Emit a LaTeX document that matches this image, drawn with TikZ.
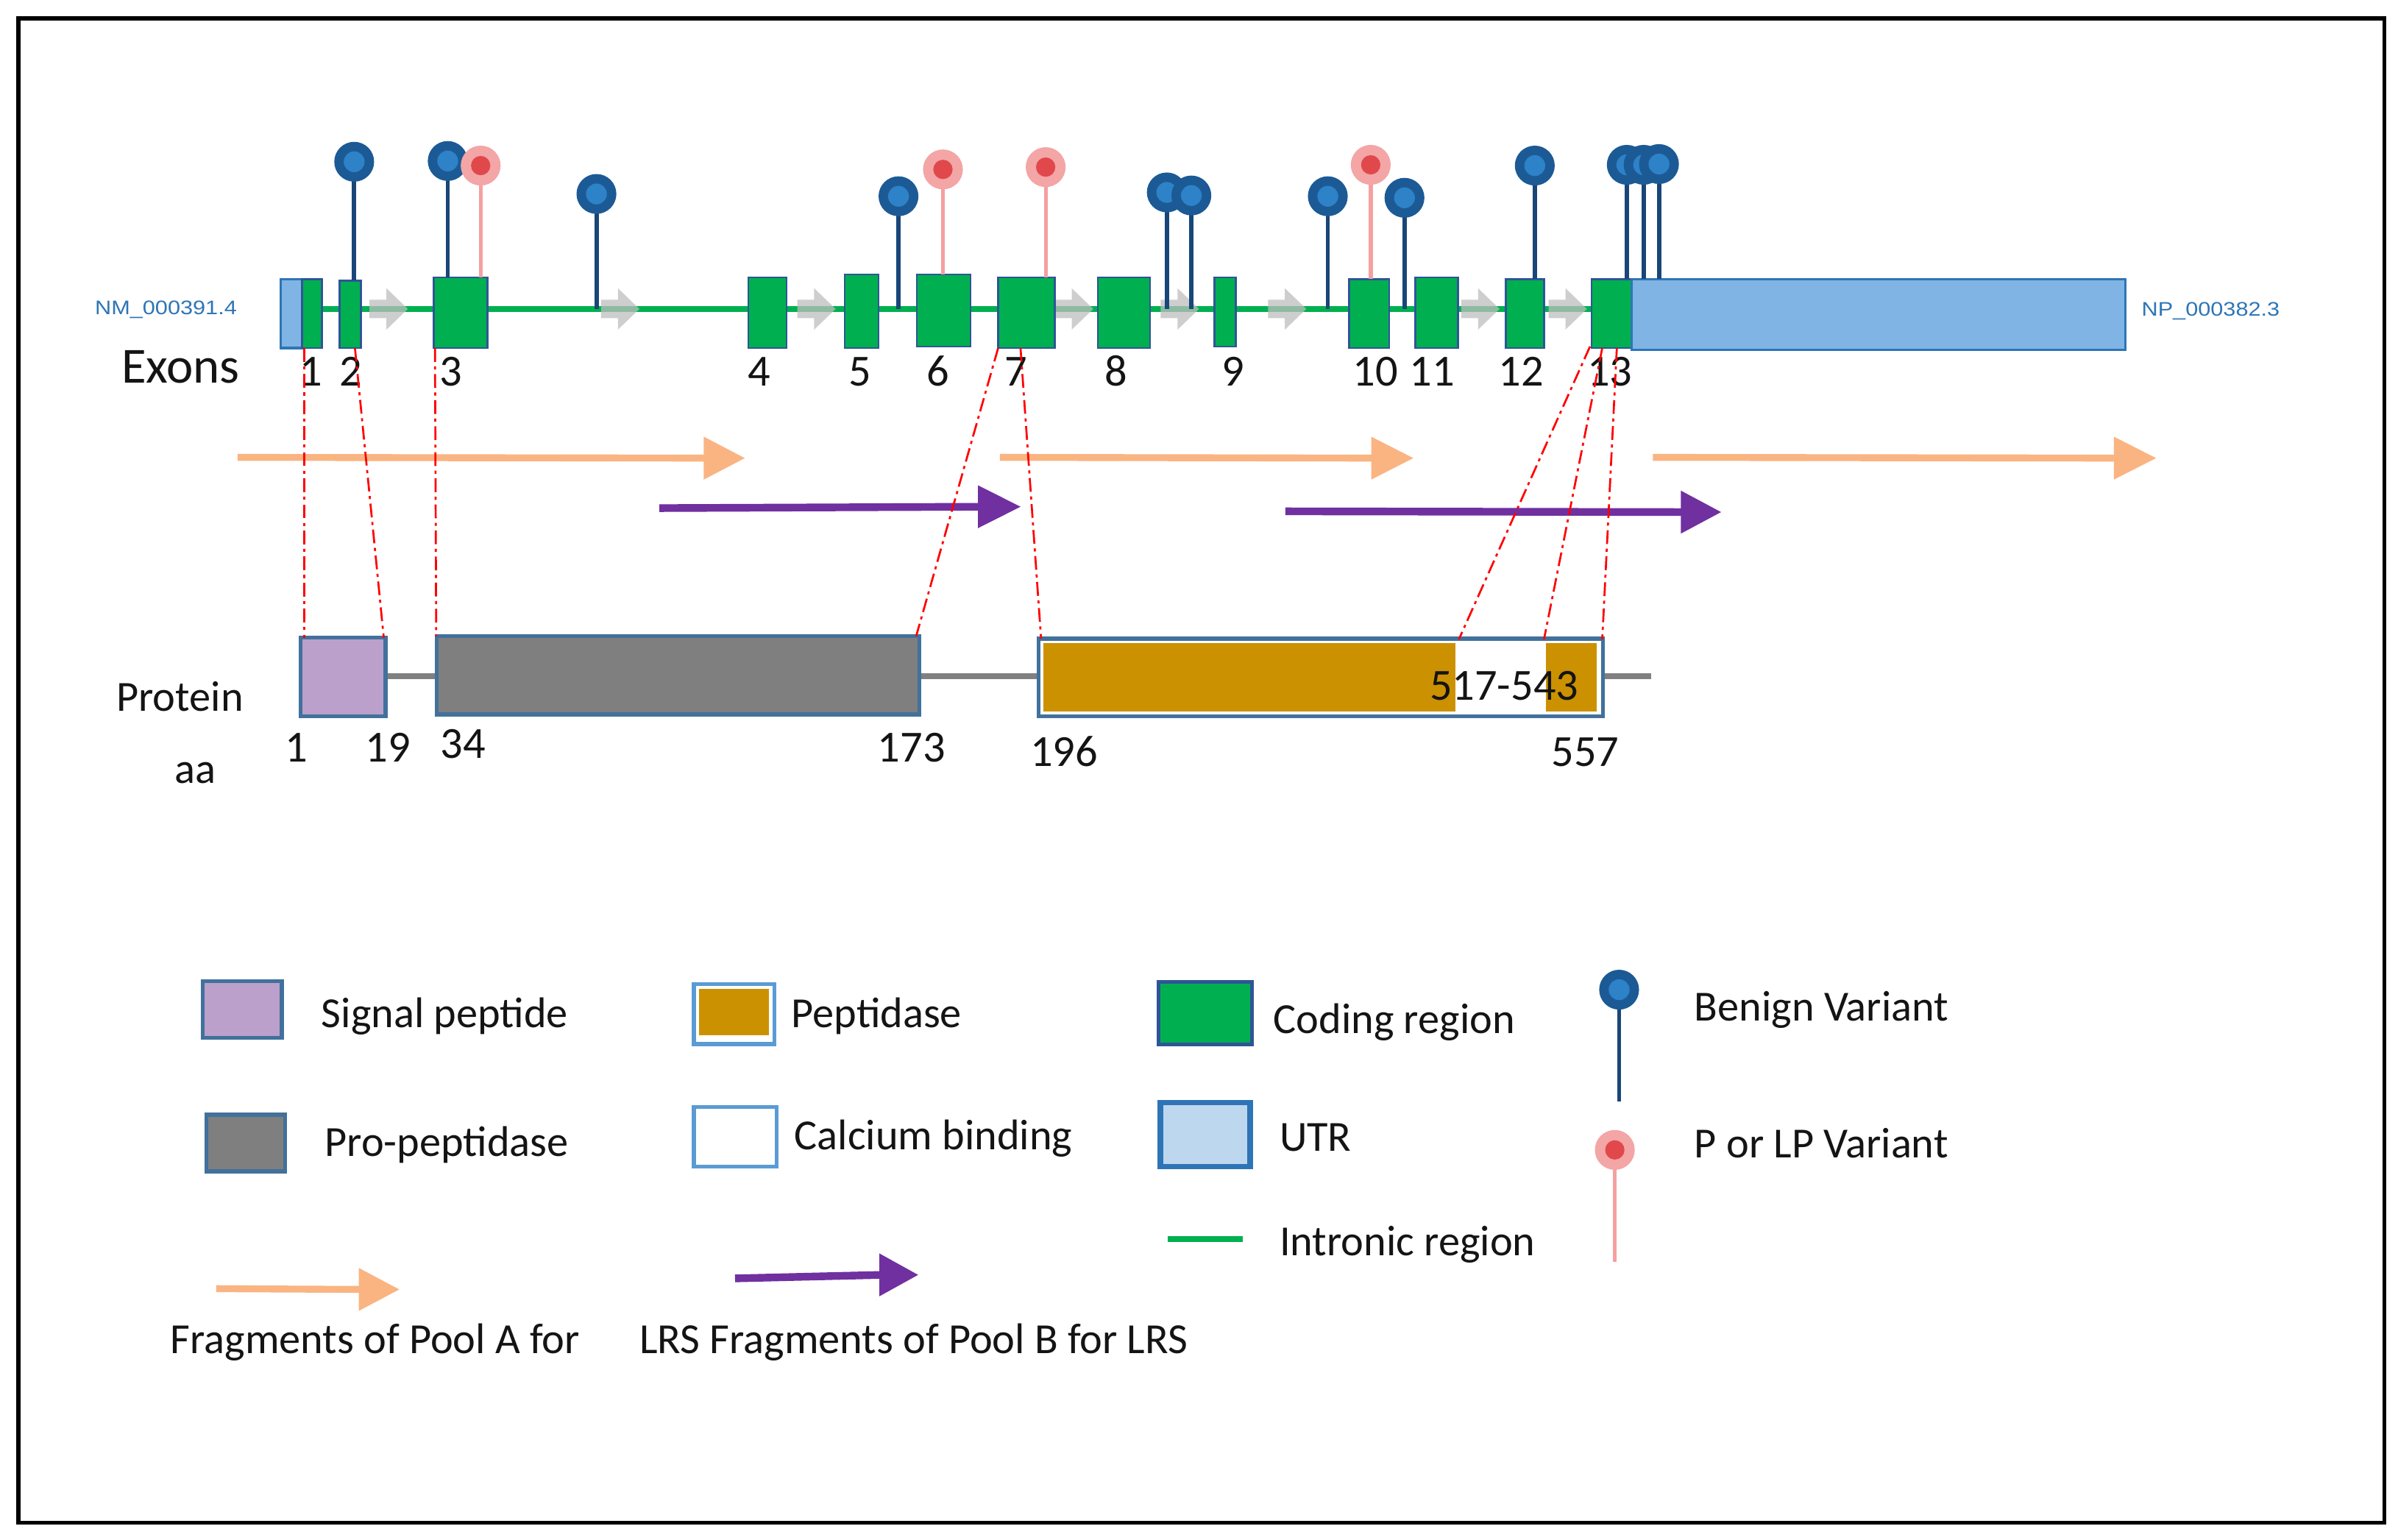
\documentclass[tikz,border=0pt]{standalone}
\usepackage{fontspec}
\setmainfont{Carlito}
\newfontfamily\arialfont{Liberation Sans}
\definecolor{exongreen}{RGB}{0,176,80}
\definecolor{exonedge}{RGB}{47,85,151}
\definecolor{utrfill}{RGB}{127,180,228}
\definecolor{utredge}{RGB}{46,117,182}
\definecolor{utrleg}{RGB}{189,215,238}
\definecolor{bring}{RGB}{28,90,150}
\definecolor{binner}{RGB}{45,130,200}
\definecolor{bstem}{RGB}{25,70,120}
\definecolor{pout}{RGB}{244,165,165}
\definecolor{pinner}{RGB}{224,72,76}
\definecolor{pstem}{RGB}{245,160,160}
\definecolor{sigfill}{RGB}{187,160,203}
\definecolor{profill}{RGB}{127,127,127}
\definecolor{pepfill}{RGB}{204,145,0}
\definecolor{boxedge}{RGB}{65,113,156}
\definecolor{calcedge}{RGB}{91,155,213}
\definecolor{orangeA}{RGB}{250,180,130}
\definecolor{purpleB}{RGB}{112,48,160}
\definecolor{redline}{RGB}{255,0,0}
\definecolor{nmblue}{RGB}{46,117,182}
\definecolor{garrowgray}{RGB}{190,190,190}
\definecolor{bbgray}{RGB}{128,128,128}
\definecolor{txt}{RGB}{20,20,20}
\tikzset{
  exonbox/.style={draw=exonedge, fill=exongreen, line width=1.2, inner sep=0, outer sep=0},
  utrbox/.style={draw=utredge, fill=utrfill, line width=1.5, inner sep=0, outer sep=0},
  intron/.style={draw=exongreen, line width=3.5},
  garrowfill/.style={fill=garrowgray, opacity=0.75},
  bstemline/.style={draw=bstem, line width=2.8},
  pstemline/.style={draw=pstem, line width=2.5},
  bhead/.style={circle, fill=bring, minimum size=26, inner sep=0, draw=none},
  phead/.style={circle, fill=pout, minimum size=26, inner sep=0, draw=none},
  conn/.style={draw=redline, line width=1.3, dash pattern=on 9pt off 3pt on 2pt off 3pt},
  fragA/.style={draw=orangeA, line width=4.5},
  fragB/.style={draw=purpleB, line width=5},
  lbl/.style={font=\fontsize{28}{30}\selectfont, text=txt, inner sep=0},
  num/.style={font=\fontsize{29}{31}\selectfont, text=txt, inner sep=0, anchor=base},
  nm/.style={font=\arialfont\fontsize{12.8}{14}\selectfont, text=nmblue, inner sep=0, anchor=base west},
  sigbox/.style={draw=boxedge, fill=sigfill, line width=2.5, inner sep=0},
  probox/.style={draw=boxedge, fill=profill, line width=2.5, inner sep=0},
  pepbox/.style={draw=boxedge, fill=white, line width=2.5, inner sep=0},
  pepfillbox/.style={fill=pepfill, draw=none, inner sep=0},
  backbone/.style={draw=bbgray, line width=4},
}
\newcommand{\mkbox}[6]{\node[#2, minimum width={(#5)-(#3)}, minimum height={(#6)-(#4)}] (#1) at ({((#3)+(#5))/2},{((#4)+(#6))/2}) {};}
\newcommand{\benign}[4]{%
  \coordinate (#1b) at (#2,#4);
  \coordinate (#1t) at (#2,#3);
  \draw[bstemline] (#1b) -- (#1t);
  \node[bhead] (#1) at (#1t) {};
  \fill[binner] (#1.center) circle[radius=6.8];}
\newcommand{\pathog}[4]{%
  \coordinate (#1b) at (#2,#4);
  \coordinate (#1t) at (#2,#3);
  \draw[pstemline] (#1b) -- (#1t);
  \node[phead] (#1) at (#1t) {};
  \fill[pinner] (#1.center) circle[radius=6.3];}
\newcommand{\garrow}[1]{\fill[garrowfill] (#1,195.5) -- ++(11,0) -- ++(0,-7.5) -- ++(14,13.5) -- ++(-14,13.5) -- ++(0,-7.5) -- ++(-11,0) -- cycle;}
\newcommand{\fragarrow}[8]{%
  \coordinate (#1s) at (#4,#5);
  \coordinate (#1t) at (#7,#8);
  \draw[#2] (#1s) -- ({#6+2},#8);
  \fill[#3] (#6,{#8-14}) -- (#1t) -- (#6,{#8+14}) -- cycle;}
\begin{document}
\begin{tikzpicture}[x=1pt,y=-1pt]
\useasboundingbox (0,0) rectangle (1564,1004);
\fill[white] (0,0) rectangle (1564,1004);
\node[draw=black, line width=2.5, minimum width=1543, minimum height=981, inner sep=0] (frame) at (783.5,502.5) {};

% ---------- gene track ----------
\coordinate (iL) at (210,201.5);
\coordinate (iR) at (1038,201.5);
\draw[intron] (iL) -- (iR);
\garrow{241}\garrow{392}\garrow{520}\garrow{688}\garrow{757}\garrow{827}\garrow{953}\garrow{1010}

\mkbox{utrL}{utrbox}{183}{182}{197}{227}
\mkbox{e1}{exonbox}{197}{182}{210}{227}
\mkbox{e2}{exonbox}{221.5}{183}{235.5}{227}
\mkbox{e3}{exonbox}{283}{181}{318}{227}
\mkbox{e4}{exonbox}{488}{181}{513}{227}
\mkbox{e5}{exonbox}{551}{179}{573}{227}
\mkbox{e6}{exonbox}{598}{179}{633}{226}
\mkbox{e7}{exonbox}{651}{181}{688}{227}
\mkbox{e8}{exonbox}{716}{181}{750}{227}
\mkbox{e9}{exonbox}{792}{181}{806}{226}
\mkbox{e10}{exonbox}{880}{182}{906}{227}
\mkbox{e11}{exonbox}{923}{181}{951}{227}
\mkbox{e12}{exonbox}{982}{182}{1007}{227}
\mkbox{e13}{exonbox}{1038}{182}{1064}{227}
\mkbox{utrR}{utrbox}{1064}{182}{1386}{228}

\node[num] (n1) at (203,251.5) {1};
\node[num] (n2) at (229,251.5) {2};
\node[num] (n3) at (294,251.5) {3};
\node[num] (n4) at (495,251.5) {4};
\node[num] (n5) at (561,251.5) {5};
\node[num] (n6) at (612,251.5) {6};
\node[num] (n7) at (662.6,251.5) {7};
\node[num] (n8) at (728,251.5) {8};
\node[num] (n9) at (804,251.5) {9};
\node[num] (n10) at (897,251.5) {10};
\node[num] (n11) at (934,251.5) {11};
\node[num] (n12) at (992,251.5) {12};
\node[num] (n13) at (1050,251.5) {13};

\node[font=\fontsize{33}{35}\selectfont, text=txt, inner sep=0, anchor=base west] (exons) at (79,249.6) {Exons};
\node[nm] (nmlab) at (61.8,205) {\scalebox{1.15}[1]{NM\_000391.4}};
\node[nm] (nplab) at (1396.6,206) {\scalebox{1.15}[1]{NP\_000382.3}};

% variants
\benign{v1}{231}{105.5}{183}
\benign{v2}{292}{105}{181}
\pathog{v3}{313.5}{108}{181}
\benign{v4}{389}{126.5}{201.5}
\benign{v5}{586}{128}{201.5}
\pathog{v6}{615}{110.5}{179}
\pathog{v7}{682}{109}{181}
\benign{v8}{761}{125.5}{201.5}
\benign{v9}{777}{127.5}{201.5}
\benign{v10}{866}{128}{201.5}
\pathog{v11}{894}{107.5}{182}
\benign{v12}{916}{129}{201.5}
\benign{v13}{1001}{108}{182}
\benign{v14}{1061}{107.5}{182}
\benign{v15}{1072}{107.5}{182}
\benign{v16}{1082}{107}{182}

% fragment arrows
\fragarrow{fa1}{fragA}{orangeA}{154.9}{298.3}{459}{485.8}{298.8}
\fragarrow{fa2}{fragA}{orangeA}{652.1}{298.3}{894.3}{921.8}{298.8}
\fragarrow{fa3}{fragA}{orangeA}{1078}{298.3}{1378.7}{1406.2}{298.8}
\fragarrow{fb1}{fragB}{purpleB}{430}{331.4}{637.8}{665.6}{330.5}
\fragarrow{fb2}{fragB}{purpleB}{838.3}{333.5}{1096.3}{1122.5}{334}

% ---------- protein ----------
\coordinate (bbL) at (251,441);
\coordinate (bbR) at (1077,441);
\draw[backbone] (bbL) -- (bbR);
\mkbox{sig}{sigbox}{196}{416}{251.5}{467}
\mkbox{pro}{probox}{284.7}{415}{599.5}{466}
\mkbox{pep}{pepbox}{677.5}{416.5}{1045.5}{467}
\mkbox{pepA}{pepfillbox}{680.5}{419.5}{949}{464}
\mkbox{pepB}{pepfillbox}{1008.5}{419.5}{1041.5}{464}
\node[num] (calc) at (981,456.7) {517-543};

\node[lbl, anchor=base west] (protein) at (75.8,464) {Protein};
\node[lbl, anchor=base] (aa) at (127.5,511) {aa};
\node[num] (p1) at (193.5,496.7) {1};
\node[num] (p19) at (253,496.7) {19};
\node[num] (p34) at (302,494.3) {34};
\node[num] (p173) at (594.5,496.7) {173};
\node[num] (p196) at (694,500) {196};
\node[num] (p557) at (1034,500) {557};

% connectors
\coordinate (c1a) at (198.6,227);  \coordinate (c1b) at (198.6,416);
\coordinate (c2a) at (231.5,227);  \coordinate (c2b) at (250.3,416);
\coordinate (c3a) at (283.7,227);  \coordinate (c3b) at (284.5,415);
\coordinate (c4a) at (651,227);    \coordinate (c4b) at (597.5,415);
\coordinate (c5a) at (665.6,227);  \coordinate (c5b) at (679,416.5);
\coordinate (c6a) at (1037,226);   \coordinate (c6b) at (951.5,417);
\coordinate (c7a) at (1045,227);   \coordinate (c7b) at (1007,417);
\coordinate (c8a) at (1054.5,227); \coordinate (c8b) at (1045,417);
\foreach \i in {1,...,8} {\draw[conn] (c\i a) -- (c\i b);}

% ---------- legend ----------
\mkbox{lsig}{sigbox}{132.4}{640}{183.8}{677}
\node[lbl, anchor=base west] (tsig) at (209.5,670) {Signal peptide};
\mkbox{lpep}{pepbox, draw=calcedge}{452.5}{642}{505}{681}
\mkbox{lpepin}{pepfillbox}{456}{645}{501.5}{675}
\node[lbl, anchor=base west] (tpep) at (516,670) {Peptidase};
\mkbox{lcod}{exonbox, line width=2.5}{755.6}{640.6}{816.5}{681.4}
\node[lbl, anchor=base west] (tcod) at (830.4,674) {Coding region};
\benign{lben}{1056}{645.5}{718.2}
\node[lbl, anchor=base west] (tben) at (1105,666) {Benign Variant};

\mkbox{lpro}{probox}{134.6}{727}{186}{764}
\node[lbl, anchor=base west] (tpro) at (211.7,754) {Pro-peptidase};
\mkbox{lcal}{pepbox, draw=calcedge}{452.5}{722}{506.5}{761}
\node[lbl, anchor=base west] (tcal) at (518,750) {Calcium binding};
\mkbox{lutr}{draw=utredge, fill=utrleg, line width=3.5, inner sep=0}{756.8}{719}{815.3}{761}
\node[lbl, anchor=base west] (tutr) at (834.4,751) {UTR};
\pathog{lpat}{1053.2}{750}{823}
\node[lbl, anchor=base west] (tpat) at (1105,755) {P or LP Variant};

\coordinate (liL) at (761.6,808.3);
\coordinate (liR) at (810.5,808.3);
\draw[intron, line width=4] (liL) -- (liR);
\node[lbl, anchor=base west] (tint) at (834.4,819) {Intronic region};

\fragarrow{lgA}{fragA}{orangeA}{141}{840.5}{234}{260.4}{841}
\fragarrow{lgB}{fragB}{purpleB}{479.4}{833.8}{573.5}{598.8}{831.5}
\node[lbl, anchor=base west] (tfa) at (111,883) {Fragments of Pool A for};
\node[lbl, anchor=base west] (tfb) at (417,883) {LRS Fragments of Pool B for LRS};
\end{tikzpicture}
\end{document}
